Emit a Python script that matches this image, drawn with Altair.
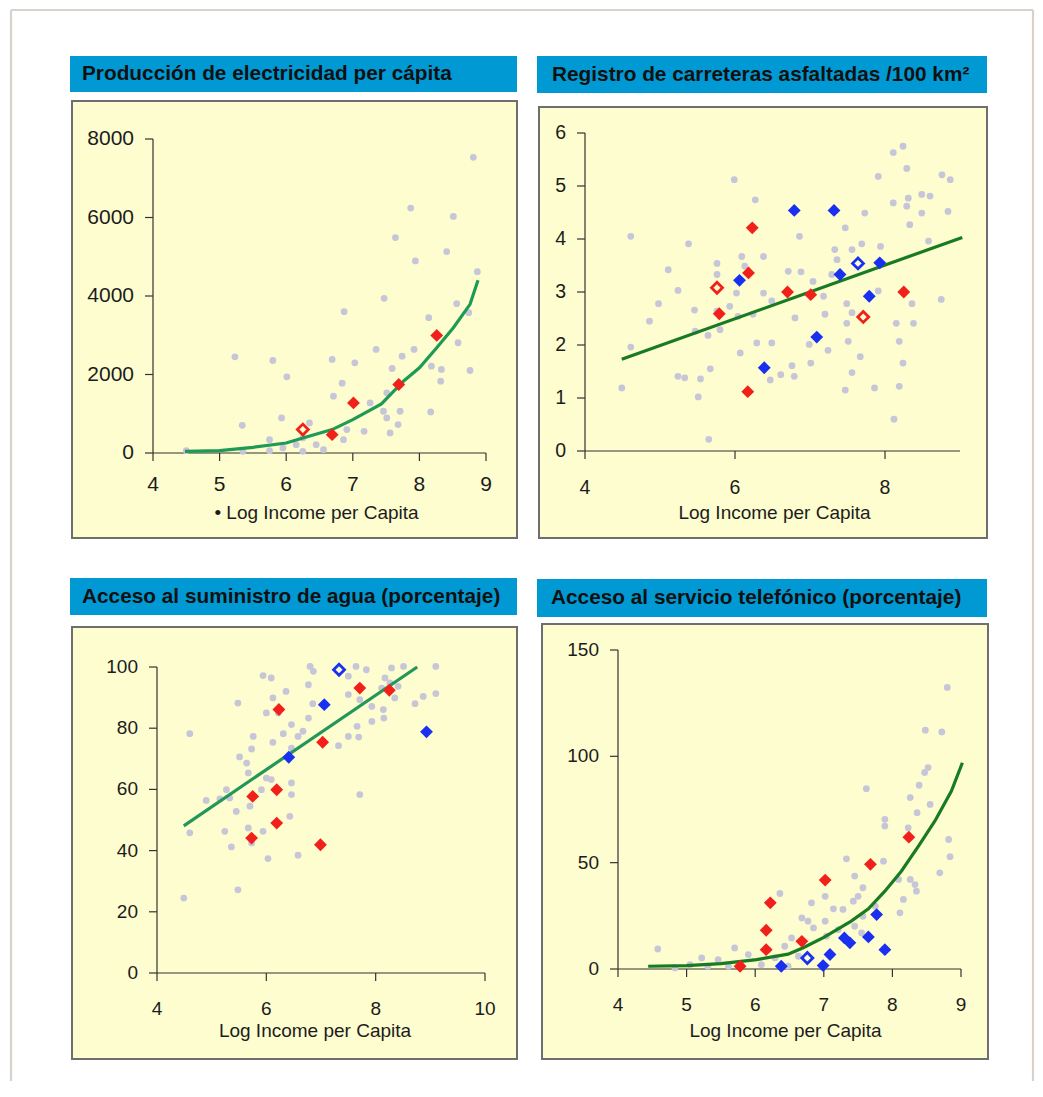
import altair as alt
import pandas as pd

# ---------------- data ----------------
titles = [
    "Producción de electricidad per cápita",
    "Registro de carreteras asfaltadas /100 km²",
    "Acceso al suministro de agua (porcentaje)",
    "Acceso al servicio telefónico (porcentaje)",
]
x_titles = ["• Log Income per Capita", "Log Income per Capita",
            "Log Income per Capita", "Log Income per Capita"]

# Panel 1 - electricity
p1_gray_x = [8.81, 7.87, 8.51, 7.64, 8.41, 7.94, 8.87, 7.47, 6.87, 8.14, 8.56, 8.74, 7.35, 7.92,
             7.74, 8.58, 8.18, 8.33, 8.32, 8.76, 7.59, 7.03, 6.69, 5.23, 5.80, 6.01, 6.84, 6.71,
             7.26, 7.51, 8.17, 7.71, 7.68, 7.56, 7.51, 7.46, 7.17, 5.93, 5.34, 6.35, 6.25, 6.45,
             6.86, 5.75, 5.95, 6.56, 6.15, 5.75, 4.50, 5.35, 6.25, 6.91]
p1_gray_y = [7532, 6239, 6026, 5490, 5132, 4894, 4621, 3941, 3600, 3447, 3804, 3575, 2638, 2638,
             2468, 2809, 2213, 2128, 1830, 2102, 2153, 2298, 2383, 2451, 2357, 1940, 1779, 1447,
             1277, 1532, 1047, 1064, 723, 511, 894, 1064, 553, 894, 706, 766, 383, 213,
             340, 340, 128, 85, 213, 60, 60, 43, 43, 596]
p1_red_x = [6.69, 7.01, 7.69, 8.26]
p1_red_y = [468, 1277, 1745, 2996]
p1_redo_x = [6.25]
p1_redo_y = [596]
p1_blue_x, p1_blue_y, p1_blueo_x, p1_blueo_y = [], [], [], []
p1_line_x = [4.48, 5.0, 5.5, 6.0, 6.25, 6.69, 7.0, 7.43, 7.76, 8.0, 8.26, 8.51, 8.76, 8.88]
p1_line_y = [43, 60, 145, 255, 383, 596, 851, 1251, 1830, 2170, 2681, 3192, 3787, 4400]

# Panel 2 - paved roads
p2_gray_x = [8.24, 8.11, 8.29, 7.91, 8.76, 8.87, 5.99, 6.27, 8.11, 8.31, 8.49, 8.60, 8.29, 7.73,
             8.49, 8.84, 8.33, 7.47, 4.61, 6.86, 5.38, 8.58, 7.33, 7.56, 7.69, 7.94, 6.09, 6.38,
             7.36, 5.76, 5.11, 6.13, 6.71, 6.88, 5.76, 7.29, 7.04, 5.24, 6.02, 6.38, 7.91, 4.98,
             5.93, 6.49, 7.18, 7.49, 8.36, 8.75, 5.46, 5.76, 6.04, 6.24, 6.80, 7.20, 7.56, 4.86,
             7.49, 8.15, 8.38, 5.80, 5.47, 5.64, 7.51, 6.29, 6.49, 6.99, 8.19, 4.61, 6.07, 7.67,
             7.24, 6.76, 7.01, 8.24, 5.67, 5.24, 5.33, 5.54, 6.47, 6.61, 6.79, 7.56, 8.19, 4.49,
             7.47, 7.86, 5.51, 8.12, 5.65]
p2_gray_y = [5.75, 5.63, 5.33, 5.18, 5.21, 5.12, 5.12, 4.74, 4.68, 4.77, 4.84, 4.81, 4.62, 4.49,
             4.49, 4.52, 4.27, 4.21, 4.05, 4.05, 3.91, 3.96, 3.80, 3.80, 3.91, 3.86, 3.67, 3.67,
             3.61, 3.54, 3.42, 3.49, 3.39, 3.38, 3.33, 3.33, 3.20, 3.03, 2.98, 2.98, 3.02, 2.78,
             2.73, 2.83, 2.92, 2.78, 2.78, 2.86, 2.66, 2.64, 2.54, 2.58, 2.51, 2.58, 2.61, 2.45,
             2.41, 2.41, 2.41, 2.29, 2.26, 2.18, 2.07, 2.04, 2.04, 2.01, 2.07, 1.96, 1.85, 1.78,
             1.90, 1.61, 1.66, 1.66, 1.55, 1.41, 1.38, 1.36, 1.34, 1.44, 1.41, 1.48, 1.22, 1.19,
             1.15, 1.19, 1.02, 0.60, 0.22]
p2_red_x = [6.23, 6.18, 5.79, 6.70, 7.01, 8.25, 6.17]
p2_red_y = [4.21, 3.36, 2.59, 3.00, 2.95, 3.00, 1.12]
p2_redo_x = [5.76, 7.71]
p2_redo_y = [3.08, 2.53]
p2_blue_x = [6.79, 7.32, 6.06, 7.40, 7.93, 7.79, 7.09, 6.39]
p2_blue_y = [4.54, 4.54, 3.22, 3.33, 3.55, 2.92, 2.15, 1.57]
p2_blueo_x = [7.64]
p2_blueo_y = [3.54]
p2_line_x = [4.49, 9.03]
p2_line_y = [1.73, 4.03]

# Panel 3 - water
p3_gray_x = [6.80, 8.51, 9.10, 8.29, 7.64, 7.83, 5.94, 6.09, 6.86, 7.50, 8.17, 8.26, 8.11, 8.41,
             6.77, 6.36, 6.12, 7.50, 7.71, 8.35, 8.87, 9.10, 8.72, 5.48, 6.85, 6.00, 6.22, 7.93,
             8.14, 7.93, 8.15, 6.77, 6.46, 7.66, 4.60, 5.76, 6.31, 6.67, 6.58, 7.50, 7.69, 6.12,
             5.73, 7.32, 6.46, 5.51, 5.64, 5.67, 6.00, 6.09, 6.46, 5.91, 6.46, 5.27, 5.33, 4.90,
             5.15, 7.71, 5.70, 5.45, 6.43, 5.24, 4.60, 5.67, 5.94, 5.36, 5.73, 6.58, 6.03, 5.48,
             4.49]
p3_gray_y = [100.2, 100.2, 100.2, 99.7, 100.2, 99.1, 97.2, 96.4, 98.6, 97.0, 96.4, 94.8, 93.1, 93.7,
             94.2, 92.0, 89.9, 91.0, 89.3, 89.9, 90.4, 91.3, 88.0, 88.2, 88.0, 85.0, 85.0, 87.1,
             86.1, 82.2, 83.3, 83.3, 81.2, 80.6, 78.2, 77.3, 78.2, 79.0, 77.3, 77.3, 77.1, 75.4,
             73.2, 74.3, 73.5, 70.6, 68.6, 65.4, 63.7, 63.2, 62.1, 59.9, 58.3, 59.9, 57.2, 56.4,
             56.9, 58.3, 54.5, 52.8, 51.2, 46.3, 45.8, 47.4, 46.3, 41.2, 42.5, 38.5, 37.4, 27.2,
             24.5]
p3_red_x = [7.71, 8.25, 6.23, 7.03, 5.75, 6.19, 6.19, 5.73, 6.99]
p3_red_y = [93.1, 92.4, 86.1, 75.4, 57.7, 59.9, 49.0, 44.1, 41.9]
p3_redo_x, p3_redo_y = [], []
p3_blue_x = [7.06, 6.41, 8.93]
p3_blue_y = [87.7, 70.5, 78.8]
p3_blueo_x = [7.33]
p3_blueo_y = [99.1]
p3_line_x = [4.49, 8.76]
p3_line_y = [48.1, 100.0]

# Panel 4 - telephone
p4_gray_x = [8.80, 8.48, 8.72, 8.52, 8.47, 8.39, 7.62, 8.26, 8.55, 8.36, 7.89, 7.89, 8.23, 8.82,
             8.84, 7.33, 7.87, 7.45, 8.69, 8.09, 8.26, 8.33, 8.35, 7.57, 7.50, 7.43, 6.36, 6.82,
             7.02, 8.16, 8.11, 7.14, 7.28, 7.75, 6.68, 6.77, 7.02, 7.57, 6.85, 7.45, 7.21, 6.53,
             7.04, 7.55, 6.43, 6.19, 5.70, 5.90, 6.29, 6.63, 4.58, 5.22, 5.46, 5.05, 5.31, 6.09,
             6.48, 4.83, 5.61]
p4_gray_y = [132.4, 112.3, 111.5, 94.7, 92.4, 86.4, 84.8, 80.6, 77.4, 73.5, 70.4, 67.2, 66.4, 60.9,
             52.8, 51.8, 50.7, 43.7, 45.2, 42.1, 42.1, 39.7, 36.6, 38.2, 34.2, 31.9, 35.5, 31.1,
             34.2, 32.7, 26.4, 28.3, 28.0, 29.5, 24.0, 22.5, 22.5, 24.8, 19.3, 20.1, 18.5, 14.6,
             15.4, 17.0, 10.7, 9.1, 9.9, 6.8, 5.2, 6.0, 9.4, 5.2, 4.4, 2.0, 1.3, 2.0,
             1.3, 0.5, 1.3]
p4_red_x = [8.24, 7.68, 7.02, 6.22, 6.16, 6.16, 6.68, 5.78]
p4_red_y = [62.0, 49.2, 41.8, 31.1, 18.2, 9.1, 13.0, 1.3]
p4_redo_x, p4_redo_y = [], []
p4_blue_x = [7.77, 7.30, 7.38, 7.65, 7.89, 7.09, 6.99, 6.38]
p4_blue_y = [25.6, 14.6, 12.3, 15.1, 9.1, 6.8, 1.6, 1.3]
p4_blueo_x = [6.76]
p4_blueo_y = [5.2]
p4_line_x = [4.44, 5.0, 5.5, 6.02, 6.48, 6.7, 7.0, 7.4, 7.65, 7.89, 8.13, 8.38, 8.62, 8.86, 9.02]
p4_line_y = [1.3, 1.6, 2.5, 4.4, 7.0, 10.0, 14.9, 22.5, 28.3, 36.6, 46.0, 57.8, 69.6, 83.7, 97.0]

x_domains = [[4, 9], [4, 9], [4, 10], [4, 9]]
y_domains = [[0, 8000], [0, 6], [0, 100], [0, 150]]
x_ticks = [[4, 5, 6, 7, 8, 9], [4, 6, 8], [4, 6, 8, 10], [4, 5, 6, 7, 8, 9]]
y_ticks = [[0, 2000, 4000, 6000, 8000], [0, 1, 2, 3, 4, 5, 6],
           [0, 20, 40, 60, 80, 100], [0, 50, 100, 150]]

# ---------------- styles / layout ----------------
FONT = "Liberation Sans"
BLUE_BAR = "#0099d4"
YELLOW = "#fdfdcf"
GRAY_PT = "#c6c6d8"
RED = "#f2201a"
BLUE = "#1a30f0"
AX = "#333333"
TXT = "#1c1c1c"
W, H = 465, 520

geo = [
    dict(bar=(0, 447, 5, 41), box=(2, 447, 50, 487), tt=(12, 23), xr=[83, 416], yr=[402, 88],
         ldy=32, tdy=60, tdx=-3, lfs=21, green="#1f9a55"),
    dict(bar=(2, 452, 5, 42), box=(4, 452, 56, 487), tt=(17, 23.5), xr=[50, 425], yr=[400, 82],
         ldy=37, tdy=62, tdx=2, lfs=19.5, green="#187a22"),
    dict(bar=(0, 447, 7, 44), box=(2, 447, 56, 488), tt=(12, 26), xr=[87, 415], yr=[402, 96],
         ldy=36, tdy=58, tdx=-6, lfs=19, green="#24965a"),
    dict(bar=(2, 452, 8, 46), box=(7, 453, 53, 488), tt=(16, 27), xr=[83, 426], yr=[398, 79],
         ldy=36, tdy=62, tdx=-4, lfs=19, green="#187a22"),
]

series = [
    (p1_gray_x, p1_gray_y, p1_red_x, p1_red_y, p1_redo_x, p1_redo_y, p1_blue_x, p1_blue_y,
     p1_blueo_x, p1_blueo_y, p1_line_x, p1_line_y),
    (p2_gray_x, p2_gray_y, p2_red_x, p2_red_y, p2_redo_x, p2_redo_y, p2_blue_x, p2_blue_y,
     p2_blueo_x, p2_blueo_y, p2_line_x, p2_line_y),
    (p3_gray_x, p3_gray_y, p3_red_x, p3_red_y, p3_redo_x, p3_redo_y, p3_blue_x, p3_blue_y,
     p3_blueo_x, p3_blueo_y, p3_line_x, p3_line_y),
    (p4_gray_x, p4_gray_y, p4_red_x, p4_red_y, p4_redo_x, p4_redo_y, p4_blue_x, p4_blue_y,
     p4_blueo_x, p4_blueo_y, p4_line_x, p4_line_y),
]

one = pd.DataFrame({"k": [0]})


def df(xs, ys):
    return pd.DataFrame({"x": xs, "y": ys})


def make_panel(i, frame=False):
    g = geo[i]
    gx, gy, rx, ry, rox, roy, bx, by, box_, boy, lx, ly = series[i]
    xs = alt.Scale(domain=x_domains[i], range=g["xr"], nice=False, zero=False)
    ys = alt.Scale(domain=y_domains[i], range=g["yr"], nice=False, zero=False)
    x0, x1 = x_domains[i]
    y0, y1 = y_domains[i]

    def X(field="x"):
        return alt.X(f"{field}:Q", scale=xs, axis=None)

    def Y(field="y"):
        return alt.Y(f"{field}:Q", scale=ys, axis=None)

    def XD(v):
        return alt.XDatum(v, type="quantitative", scale=xs, axis=None)

    def YD(v):
        return alt.YDatum(v, type="quantitative", scale=ys, axis=None)

    layers = []
    if frame:
        layers.append(alt.Chart(one).mark_rect(fill="white", strokeWidth=0).encode(
            x=alt.value(-62), x2=alt.value(964.5), y=alt.value(-42), y2=alt.value(1030)))
        fr = dict(color="#d9d1cc", strokeWidth=2.2)
        layers.append(alt.Chart(one).mark_rule(**fr).encode(
            x=alt.value(-59), y=alt.value(-41), y2=alt.value(1030)))
        layers.append(alt.Chart(one).mark_rule(**fr).encode(
            x=alt.value(963), y=alt.value(-41), y2=alt.value(1030)))
        layers.append(alt.Chart(one).mark_rule(**fr).encode(
            x=alt.value(-59), x2=alt.value(963), y=alt.value(-41)))
    b = g["bar"]
    layers.append(alt.Chart(one).mark_rect(fill=BLUE_BAR, strokeWidth=0).encode(
        x=alt.value(b[0]), x2=alt.value(b[1]), y=alt.value(b[2]), y2=alt.value(b[3])))
    bb = g["box"]
    layers.append(alt.Chart(one).mark_rect(fill=YELLOW, stroke="#6e6e6e", strokeWidth=2).encode(
        x=alt.value(bb[0]), x2=alt.value(bb[1]), y=alt.value(bb[2]), y2=alt.value(bb[3])))
    layers.append(alt.Chart(one).mark_text(align="left", baseline="middle", font=FONT,
                                           fontSize=20.8, fontWeight="bold", color="#111111").encode(
        x=alt.value(g["tt"][0]), y=alt.value(g["tt"][1]), text=alt.value(titles[i])))

    # ----- axes drawn with marks through the scales -----
    xt = pd.DataFrame({"v": x_ticks[i], "lab": [str(v) for v in x_ticks[i]]})
    yt = pd.DataFrame({"v": y_ticks[i], "lab": [str(v) for v in y_ticks[i]]})
    layers.append(alt.Chart(one).mark_rule(color=AX, strokeWidth=1.2).encode(
        x=XD(x0), x2=alt.X2Datum(x1), y=YD(y0)))
    layers.append(alt.Chart(one).mark_rule(color=AX, strokeWidth=1.2).encode(
        x=XD(x0), y=YD(y0), y2=alt.Y2Datum(y1)))
    layers.append(alt.Chart(xt).mark_rule(color=AX, strokeWidth=1.2, y2Offset=8).encode(
        x=X("v"), y=YD(y0), y2=alt.Y2Datum(y0)))
    layers.append(alt.Chart(yt).mark_rule(color=AX, strokeWidth=1.2, x2Offset=-8).encode(
        y=Y("v"), x=XD(x0), x2=alt.X2Datum(x0)))
    layers.append(alt.Chart(xt).mark_text(font=FONT, fontSize=g["lfs"], color=TXT, align="center",
                                          baseline="middle", dy=g["ldy"]).encode(
        x=X("v"), y=YD(y0), text="lab:N"))
    layers.append(alt.Chart(yt).mark_text(font=FONT, fontSize=g["lfs"], color=TXT, align="right",
                                          baseline="middle", dx=-19).encode(
        y=Y("v"), x=XD(x0), text="lab:N"))
    layers.append(alt.Chart(one).mark_text(font=FONT, fontSize=19, color=TXT, align="center",
                                           baseline="middle", dy=g["tdy"], dx=g["tdx"]).encode(
        x=XD((x0 + x1) / 2), y=YD(y0), text=alt.value(x_titles[i])))

    # ----- data -----
    layers.append(alt.Chart(df(gx, gy)).mark_circle(size=46, color=GRAY_PT, opacity=1).encode(
        x=X(), y=Y()))
    layers.append(alt.Chart(df(lx, ly)).mark_line(color=g["green"], strokeWidth=3.2).encode(
        x=X(), y=Y()))
    for xx, yy, col, filled in [(rx, ry, RED, True), (rox, roy, RED, False),
                                (bx, by, BLUE, True), (box_, boy, BLUE, False)]:
        if not xx:
            continue
        if filled:
            mk = alt.Chart(df(xx, yy)).mark_point(shape="diamond", filled=True, size=165,
                                                  color=col, opacity=1)
        else:
            mk = alt.Chart(df(xx, yy)).mark_point(shape="diamond", filled=False, size=120,
                                                  color=col, strokeWidth=2.8, opacity=1)
        layers.append(mk.encode(x=X(), y=Y()))
    return alt.layer(*layers).properties(width=W, height=H)


panels = [make_panel(0, frame=True), make_panel(1), make_panel(2), make_panel(3)]

chart = alt.concat(*panels, columns=2, spacing=0, bounds="flush").properties(
    padding=0, background="white"
).configure_view(stroke=None, fill=None)

chart.save("out.html", embed_options={"renderer": "svg", "actions": False})
